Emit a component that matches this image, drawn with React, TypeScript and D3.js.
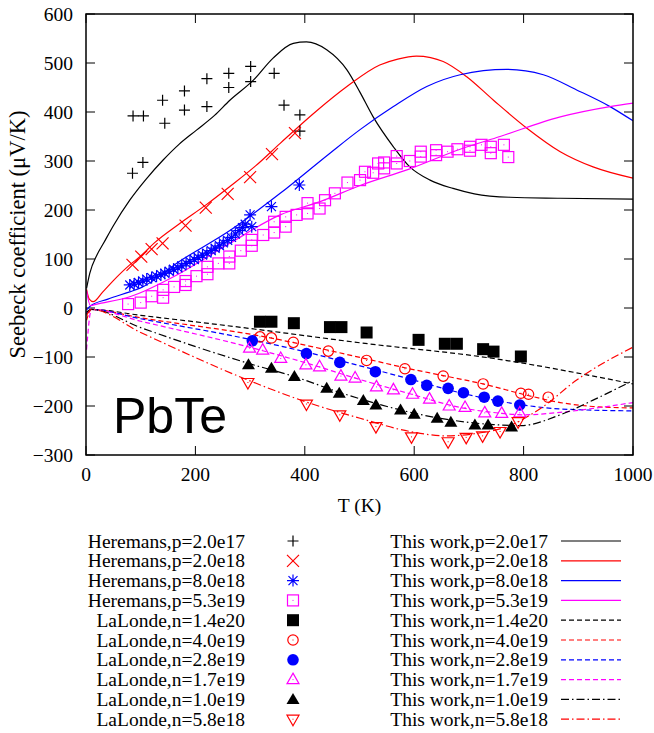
import React from 'react';
import * as d3 from 'd3';

type Pt = [number, number];

// measured points, [T (K), S (uV/K)]
const heremansP2e17: Pt[] = [
  [85, 275], [104, 297], [86, 392], [105, 392], [140, 424], [144, 377], [180, 443], [180, 404],
  [221, 468], [221, 411], [261, 479], [261, 450], [301, 493], [301, 462], [344, 479], [362, 414],
  [391, 394], [391, 361],
];
const heremansP2e18: Pt[] = [
  [85, 88], [101, 105], [120, 120], [140, 132], [182, 168], [219, 205], [259, 233], [300, 267],
  [340, 314], [382, 357],
];
const heremansP8e18: Pt[] = [
  [80, 47], [88, 49], [96, 52], [104, 55], [111, 59], [120, 62], [129, 65], [137, 68], [144, 71],
  [152, 75], [160, 79], [168, 82], [175, 86], [183, 91], [190, 95], [198, 99], [205, 103], [213, 108],
  [221, 112], [229, 117], [236, 122], [244, 127], [251, 133], [259, 138], [266, 144], [273, 151],
  [280, 158], [286, 164], [291, 171], [300, 190], [303, 166], [339, 207], [390, 251],
];
const heremansP5e19: Pt[] = [
  [77, 8], [100, 11], [120, 24], [141, 21], [141, 37], [161, 43], [182, 47], [182, 55], [202, 65],
  [222, 69], [222, 84], [242, 91], [262, 105], [262, 91], [283, 117], [303, 127], [303, 139],
  [324, 149], [344, 154], [344, 176], [365, 166], [365, 186], [385, 190], [405, 193], [405, 214],
  [427, 203], [437, 220], [455, 234], [478, 256], [501, 261], [510, 278], [525, 276], [534, 295],
  [545, 285], [545, 297], [568, 295], [568, 310], [592, 300], [612, 319], [612, 309], [640, 312],
  [640, 322], [661, 319], [679, 324], [702, 329], [702, 321], [723, 333], [740, 329], [740, 316],
  [764, 333], [772, 308],
];
const lalondeN14e20: Pt[] = [
  [318, -28], [339, -28], [380, -31], [446, -39], [467, -39], [513, -50], [608, -65], [656, -73],
  [678, -73], [726, -84], [745, -89], [795, -99],
];
const lalondeN4e19: Pt[] = [
  [318, -59], [339, -61], [379, -70], [443, -88], [513, -107], [583, -124], [653, -139], [726, -155],
  [795, -174], [809, -176], [845, -182],
];
const lalondeN28e19: Pt[] = [
  [304, -67], [403, -93], [464, -111], [529, -130], [594, -146], [623, -158], [662, -164],
  [690, -173], [728, -182], [753, -190], [793, -198],
];
const lalondeN17e19: Pt[] = [
  [299, -82], [323, -86], [356, -103], [402, -116], [427, -120], [466, -139], [492, -143],
  [531, -161], [562, -167], [597, -176], [628, -186], [664, -200], [693, -203], [729, -214],
  [760, -215], [793, -214],
];
const lalondeN1e19: Pt[] = [
  [297, -116], [339, -123], [381, -140], [440, -164], [463, -174], [507, -189], [530, -198],
  [575, -208], [600, -217], [642, -225], [667, -233], [711, -239], [735, -239], [778, -243],
];
const lalondeN58e18: Pt[] = [
  [296, -152], [403, -196], [464, -218], [530, -242], [595, -263], [662, -273], [695, -264],
  [725, -261], [757, -252], [790, -232],
];

// model curves ("This work")
const modelP2e17: Pt[] = [
  [1, 40], [7, 71], [20, 108], [32, 132], [50, 168], [80, 220], [110, 263], [141, 302], [170, 334],
  [202, 363], [235, 393], [263, 424], [306, 465], [342, 510], [379, 540], [403, 543], [440, 527],
  [477, 486], [501, 440], [525, 390], [562, 329], [592, 288], [629, 261], [671, 244], [710, 233],
  [775, 226], [867, 224], [1000, 222],
];
const modelP2e18: Pt[] = [
  [1, 38], [6, 18], [13, 13], [30, 32], [50, 56], [80, 88], [100, 106], [125, 133], [172, 173],
  [220, 211], [263, 248], [310, 290], [355, 336], [416, 397], [477, 452], [537, 496], [570, 508],
  [604, 514], [630, 511], [653, 503], [696, 472], [745, 424], [806, 367], [867, 319], [927, 288],
  [1000, 265],
];
const modelP8e18: Pt[] = [
  [1, -4], [8, 4], [40, 18], [80, 33], [100, 41], [172, 96], [263, 158], [355, 234], [446, 316],
  [501, 364], [562, 411], [623, 452], [684, 476], [769, 487], [836, 476], [897, 445], [958, 411],
  [1000, 382],
];
const modelP5e19: Pt[] = [
  [1, 35], [8, 5], [20, 8], [80, 23], [172, 71], [263, 132], [355, 190], [428, 217], [501, 250],
  [592, 284], [684, 324], [757, 350], [867, 390], [958, 411], [1000, 418],
];
const modelN14e20: Pt[] = [
  [1, -12], [10, -3], [100, -15], [294, -41], [501, -71], [745, -103], [1000, -155],
];
const modelN4e19: Pt[] = [
  [1, -25], [10, -3], [100, -20], [318, -57], [513, -104], [583, -122], [653, -138], [726, -155],
  [806, -178], [867, -193], [927, -201], [1000, -204],
];
const modelN28e19: Pt[] = [
  [1, -10], [10, -3], [100, -22], [304, -65], [403, -90], [501, -118], [592, -145], [684, -173],
  [793, -197], [867, -206], [1000, -210],
];
const modelN17e19: Pt[] = [
  [1, -85], [10, -3], [100, -27], [299, -80], [402, -112], [501, -146], [592, -175], [684, -203],
  [760, -215], [800, -218], [867, -213], [927, -205], [1000, -193],
];
const modelN1e19: Pt[] = [
  [1, -8], [10, -3], [100, -40], [297, -113], [381, -140], [463, -172], [537, -197], [642, -224],
  [745, -238], [795, -240], [867, -218], [927, -188], [1000, -148],
];
const modelN58e18: Pt[] = [
  [1, -15], [10, -3], [100, -50], [296, -147], [403, -192], [501, -225], [592, -252], [659, -261],
  [714, -256], [775, -240], [836, -201], [897, -147], [1000, -80],
];

const xTicks = [0, 200, 400, 600, 800, 1000];
const yTicks = [-300, -200, -100, 0, 100, 200, 300, 400, 500, 600];

type MarkKind = 'plus' | 'cross' | 'star' | 'square' | 'squareFill' | 'circle' | 'circleFill' | 'tri' | 'triFill' | 'triDown';

const markerSeries: { label: string; data: Pt[]; kind: MarkKind; color: string }[] = [
  { label: 'Heremans,p=2.0e17', data: heremansP2e17, kind: 'plus', color: '#000000' },
  { label: 'Heremans,p=2.0e18', data: heremansP2e18, kind: 'cross', color: '#ff0000' },
  { label: 'Heremans,p=8.0e18', data: heremansP8e18, kind: 'star', color: '#0000ff' },
  { label: 'Heremans,p=5.3e19', data: heremansP5e19, kind: 'square', color: '#ff00ff' },
  { label: 'LaLonde,n=1.4e20', data: lalondeN14e20, kind: 'squareFill', color: '#000000' },
  { label: 'LaLonde,n=4.0e19', data: lalondeN4e19, kind: 'circle', color: '#ff0000' },
  { label: 'LaLonde,n=2.8e19', data: lalondeN28e19, kind: 'circleFill', color: '#0000ff' },
  { label: 'LaLonde,n=1.7e19', data: lalondeN17e19, kind: 'tri', color: '#ff00ff' },
  { label: 'LaLonde,n=1.0e19', data: lalondeN1e19, kind: 'triFill', color: '#000000' },
  { label: 'LaLonde,n=5.8e18', data: lalondeN58e18, kind: 'triDown', color: '#ff0000' },
];

const dashed = '5,3';
const dashDot = '8,3,1.5,3';
const lineSeries: { label: string; data: Pt[]; color: string; dash: string | undefined }[] = [
  { label: 'This work,p=2.0e17', data: modelP2e17, color: '#000000', dash: undefined },
  { label: 'This work,p=2.0e18', data: modelP2e18, color: '#ff0000', dash: undefined },
  { label: 'This work,p=8.0e18', data: modelP8e18, color: '#0000ff', dash: undefined },
  { label: 'This work,p=5.3e19', data: modelP5e19, color: '#ff00ff', dash: undefined },
  { label: 'This work,n=1.4e20', data: modelN14e20, color: '#000000', dash: dashed },
  { label: 'This work,n=4.0e19', data: modelN4e19, color: '#ff0000', dash: dashed },
  { label: 'This work,n=2.8e19', data: modelN28e19, color: '#0000ff', dash: dashed },
  { label: 'This work,n=1.7e19', data: modelN17e19, color: '#ff00ff', dash: dashed },
  { label: 'This work,n=1.0e19', data: modelN1e19, color: '#000000', dash: dashDot },
  { label: 'This work,n=5.8e18', data: modelN58e18, color: '#ff0000', dash: dashDot },
];

const W = 654;
const H = 733;
const plot = { left: 86, right: 633, top: 14, bottom: 455 };
const serif = '"Liberation Serif", "Times New Roman", serif';

const Marker = ({ kind, x, y, color }: { kind: MarkKind; x: number; y: number; color: string }) => {
  const sw = 1.2;
  const dot = <rect x={x - 0.5} y={y - 0.5} width={1} height={1} fill={color} />;
  switch (kind) {
    case 'plus':
      return <path d={`M${x - 5.5},${y}H${x + 5.5}M${x},${y - 5.5}V${y + 5.5}`} stroke={color} strokeWidth={sw} />;
    case 'cross':
      return <path d={`M${x - 6},${y - 6}L${x + 6},${y + 6}M${x - 6},${y + 6}L${x + 6},${y - 6}`} stroke={color} strokeWidth={sw} />;
    case 'star':
      return (
        <path
          d={`M${x - 6},${y}H${x + 6}M${x},${y - 6}V${y + 6}M${x - 4.5},${y - 4.5}L${x + 4.5},${y + 4.5}M${x - 4.5},${y + 4.5}L${x + 4.5},${y - 4.5}`}
          stroke={color}
          strokeWidth={sw}
        />
      );
    case 'square':
      return (
        <g>
          <rect x={x - 5.5} y={y - 5.5} width={11} height={11} fill="none" stroke={color} strokeWidth={sw} />
          {dot}
        </g>
      );
    case 'squareFill':
      return <rect x={x - 6} y={y - 6} width={12} height={12} fill={color} />;
    case 'circle':
      return (
        <g>
          <circle cx={x} cy={y} r={5.2} fill="none" stroke={color} strokeWidth={sw} />
          {dot}
        </g>
      );
    case 'circleFill':
      return <circle cx={x} cy={y} r={5.8} fill={color} />;
    case 'tri':
      return (
        <g>
          <path d={`M${x},${y - 6.5}L${x + 6},${y + 4}L${x - 6},${y + 4}Z`} fill="none" stroke={color} strokeWidth={sw} />
          {dot}
        </g>
      );
    case 'triFill':
      return <path d={`M${x},${y - 6.5}L${x + 6.5},${y + 4.5}L${x - 6.5},${y + 4.5}Z`} fill={color} />;
    case 'triDown':
      return (
        <g>
          <path d={`M${x},${y + 6.5}L${x + 6},${y - 4}L${x - 6},${y - 4}Z`} fill="none" stroke={color} strokeWidth={sw} />
          {dot}
        </g>
      );
  }
  return null;
};

export default function App() {
  const x = d3.scaleLinear().domain([0, 1000]).range([plot.left, plot.right]);
  const y = d3.scaleLinear().domain([-300, 600]).range([plot.bottom, plot.top]);
  const line = d3
    .line<Pt>()
    .x((d) => x(d[0]))
    .y((d) => y(d[1]))
    .curve(d3.curveMonotoneX);
  const fmt = d3.format('d');
  const tickLen = 9;

  const rowY = (i: number) => 541 + i * 19.8;

  return (
    <svg width={W} height={H} style={{ position: 'absolute', left: 0, top: 0, background: '#fff' }}>
      <defs>
        <clipPath id="plotClip">
          <rect x={plot.left} y={plot.top} width={plot.right - plot.left} height={plot.bottom - plot.top} />
        </clipPath>
      </defs>
      <rect width={W} height={H} fill="#fff" />

      {/* ticks */}
      <g stroke="#000" strokeWidth={1}>
        {xTicks.map((t) => (
          <g key={'xt' + t}>
            <line x1={x(t)} x2={x(t)} y1={plot.bottom} y2={plot.bottom - tickLen} />
            <line x1={x(t)} x2={x(t)} y1={plot.top} y2={plot.top + tickLen} />
          </g>
        ))}
        {yTicks.map((t) => (
          <g key={'yt' + t}>
            <line x1={plot.left} x2={plot.left + tickLen} y1={y(t)} y2={y(t)} />
            <line x1={plot.right} x2={plot.right - tickLen} y1={y(t)} y2={y(t)} />
          </g>
        ))}
      </g>

      <g fontFamily={serif} fontSize={19.5} fill="#000">
        {xTicks.map((t) => (
          <text key={'xl' + t} x={x(t)} y={481} textAnchor="middle">
            {fmt(t)}
          </text>
        ))}
        {yTicks.map((t) => (
          <text key={'yl' + t} x={73} y={y(t) + 6.5} textAnchor="end">
            {fmt(t)}
          </text>
        ))}
        <text x={(plot.left + plot.right) / 2} y={512} textAnchor="middle">
          T (K)
        </text>
        <text transform={`translate(25,${(plot.top + plot.bottom) / 2}) rotate(-90)`} textAnchor="middle" fontSize={22.5}>
          Seebeck coefficient (μV/K)
        </text>
      </g>

      {/* model curves */}
      <g clipPath="url(#plotClip)" fill="none">
        {lineSeries.map((s) => (
          <path key={s.label} d={line(s.data) ?? ''} stroke={s.color} strokeWidth={1.2} strokeDasharray={s.dash} />
        ))}
      </g>

      {/* measured points */}
      <g clipPath="url(#plotClip)">
        {markerSeries.map((s) => (
          <g key={s.label}>
            {s.data.map((d, i) => (
              <Marker key={i} kind={s.kind} x={x(d[0])} y={y(d[1])} color={s.color} />
            ))}
          </g>
        ))}
      </g>

      <text x={113} y={433} fontFamily='"Liberation Sans", Arial, sans-serif' fontSize={50} fill="#000">
        PbTe
      </text>

      <rect
        x={plot.left}
        y={plot.top}
        width={plot.right - plot.left}
        height={plot.bottom - plot.top}
        fill="none"
        stroke="#000"
        strokeWidth={1.5}
      />

      {/* legend */}
      <g fontFamily={serif} fontSize={19.5} fill="#000">
        {markerSeries.map((s, i) => (
          <g key={'lm' + s.label}>
            <text x={245} y={rowY(i) + 6.5} textAnchor="end">
              {s.label}
            </text>
            <Marker kind={s.kind} x={293} y={rowY(i)} color={s.color} />
          </g>
        ))}
        {lineSeries.map((s, i) => (
          <g key={'ll' + s.label}>
            <text x={548} y={rowY(i) + 6.5} textAnchor="end">
              {s.label}
            </text>
            <line x1={561} x2={621} y1={rowY(i)} y2={rowY(i)} stroke={s.color} strokeWidth={1.2} strokeDasharray={s.dash} />
          </g>
        ))}
      </g>
    </svg>
  );
}
